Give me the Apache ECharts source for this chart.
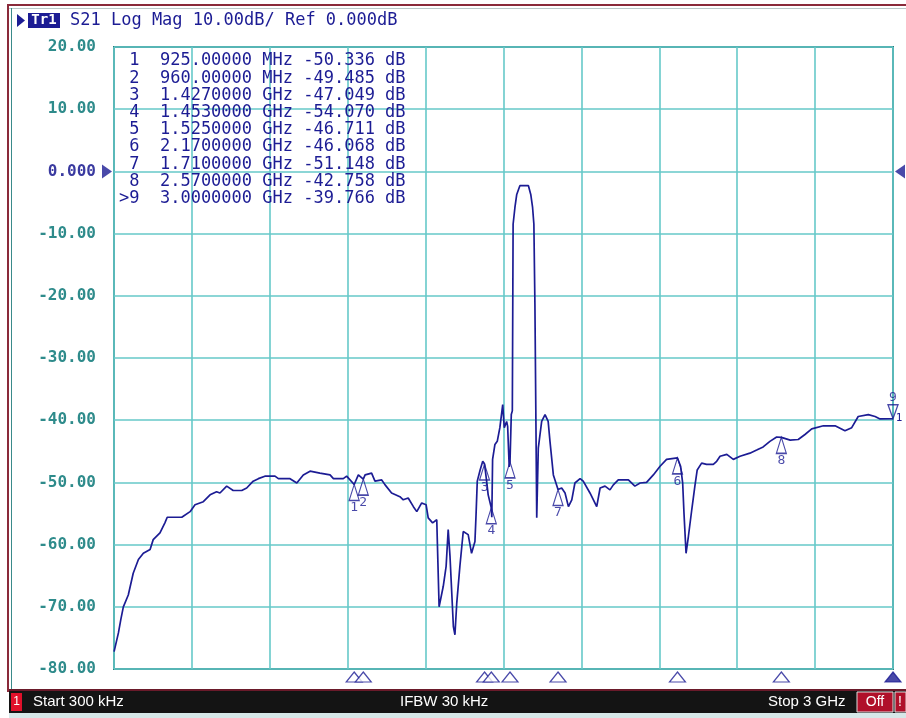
<!DOCTYPE html>
<html>
<head>
<meta charset="utf-8">
<script src="https://cdn.jsdelivr.net/npm/echarts@6/dist/echarts.min.js"></script>
<style>
html,body{margin:0;padding:0;background:#fff;}
#c{width:906px;height:718px;}
</style>
</head>
<body>
<div id="c"></div>
<script>
// ---- data ----
const traceData = [
 [0.3,-77.2],[17,-74.2],[26,-72.1],[36,-70.0],[55,-68.1],[74,-64.6],[94,-62.4],[113,-61.4],[139,-60.8],[151,-59.2],
 [177,-58.1],[196,-56.5],[205,-55.6],[261,-55.6],[293,-54.7],[312,-53.6],[344,-53.1],[370,-52.0],[395,-51.5],[408,-51.7],
 [434,-50.6],[459,-51.3],[492,-51.3],[511,-50.9],[536,-49.8],[556,-49.4],[581,-49.0],[620,-49.0],[633,-49.4],[678,-49.4],
 [704,-50.1],[729,-48.8],[755,-48.2],[793,-48.5],[832,-48.8],[845,-49.4],[883,-49.4],[896,-49.0],[925,-50.336],[941,-48.8],
 [960,-49.485],[967,-48.8],[992,-48.5],[1005,-49.8],[1031,-49.6],[1044,-50.4],[1069,-51.7],[1101,-52.3],[1114,-52.8],[1133,-52.5],
 [1153,-53.9],[1166,-54.7],[1185,-53.3],[1202,-53.6],[1210,-55.7],[1227,-56.5],[1243,-56.0],[1245,-59.2],[1252,-70.0],[1268,-66.7],
 [1279,-63.5],[1287,-57.6],[1294,-61.9],[1307,-73.2],[1313,-74.5],[1320,-69.4],[1332,-63.5],[1345,-57.9],[1364,-58.4],[1377,-61.4],
 [1390,-59.5],[1394,-55.5],[1399,-49.8],[1410,-48.0],[1420,-46.6],[1427,-47.049],[1435,-49.8],[1441,-52.0],[1453,-54.070],[1455,-55.6],
 [1458,-46.3],[1467,-43.9],[1476,-43.4],[1486,-41.2],[1497,-37.5],[1503,-41.2],[1512,-40.2],[1516,-41.0],[1522,-47.5],[1525,-46.711],
 [1530,-39.1],[1534,-38.5],[1537,-8.5],[1544,-5.8],[1551,-3.7],[1563,-2.3],[1596,-2.3],[1605,-3.7],[1612,-5.8],[1617,-8.5],
 [1621,-21.4],[1628,-55.7],[1634,-44.5],[1647,-40.2],[1660,-39.1],[1672,-40.2],[1679,-43.4],[1692,-48.8],[1710,-51.148],[1724,-50.9],
 [1737,-51.7],[1750,-53.9],[1763,-52.8],[1775,-50.1],[1795,-49.4],[1807,-49.8],[1833,-51.7],[1859,-53.9],[1872,-50.9],[1891,-50.6],
 [1910,-51.2],[1923,-50.4],[1942,-49.6],[1981,-49.6],[2006,-50.6],[2026,-50.1],[2051,-50.0],[2077,-48.8],[2103,-47.4],[2128,-46.3],
 [2170,-46.068],[2173,-46.3],[2182,-47.4],[2190,-50.1],[2195,-54.9],[2203,-61.4],[2212,-58.7],[2225,-54.4],[2237,-50.6],[2246,-48.0],
 [2263,-46.9],[2282,-47.1],[2308,-47.1],[2321,-46.6],[2334,-45.8],[2360,-45.5],[2385,-46.3],[2411,-45.8],[2449,-45.3],[2475,-44.8],
 [2500,-44.3],[2526,-43.4],[2552,-42.7],[2570,-42.758],[2604,-43.2],[2635,-43.1],[2661,-42.3],[2687,-41.4],[2732,-40.9],[2777,-40.9],
 [2815,-41.7],[2841,-41.2],[2866,-39.4],[2905,-39.1],[2931,-39.4],[2950,-39.8],[3000,-39.766]
];
const markerNums = [1,2,3,4,5,6,7,8,9];
const markerFreq = [925, 960, 1427, 1453, 1525, 2170, 1710, 2570, 3000];   // MHz
const markerDb   = [-50.336, -49.485, -47.049, -54.070, -46.711, -46.068, -51.148, -42.758, -39.766];
const activeMarker = 9;
const yTicks = [-80,-70,-60,-50,-40,-30,-20,-10,0,10,20];
const refLevel = 0;
const startFreq = 0, stopFreq = 3000;
const headerText = 'S21 Log Mag 10.00dB/ Ref 0.000dB';
const statusStart = 'Start 300 kHz', statusIfbw = 'IFBW 30 kHz', statusStop = 'Stop 3 GHz';

// ---- styles ----
const NAVY = '#1c1c94';
const TEAL = '#2e8b8b';
const GRIDC = '#66c9c9';
const MONO = '"DejaVu Sans Mono", "Liberation Mono", monospace';

function fmtFreq(f){ return f < 1000 ? f.toFixed(5) + ' MHz' : (f/1000).toFixed(7) + ' GHz'; }
function pad(s, n){ s = String(s); while (s.length < n) s = ' ' + s; return s; }

const tableRows = markerNums.map((n,i) => {
  const idx = (n === activeMarker ? '>' : '') + n;
  return pad(idx,2) + '  ' + pad(fmtFreq(markerFreq[i]),13) + ' ' + pad(markerDb[i].toFixed(3),7) + ' dB';
});

const chart = echarts.init(document.getElementById('c'), null, {renderer:'canvas'});

const graphics = [
  {type:'rect', shape:{x:0,y:0,width:906,height:718}, style:{fill:'#fff'}, z:-10, silent:true},
  {type:'line', shape:{x1:8,y1:5,x2:906,y2:5}, style:{stroke:'#8a2a3a',lineWidth:2}},
  {type:'line', shape:{x1:8,y1:8.5,x2:906,y2:8.5}, style:{stroke:'#b8c8c8',lineWidth:1}},
  {type:'line', shape:{x1:8,y1:4,x2:8,y2:692}, style:{stroke:'#8a2a3a',lineWidth:2}},
  {type:'line', shape:{x1:11.5,y1:8,x2:11.5,y2:690}, style:{stroke:'#3a8a8a',lineWidth:1}},
  {type:'polygon', shape:{points:[[17,14],[25,20.5],[17,27]]}, style:{fill:NAVY}},
  {type:'rect', shape:{x:28,y:13,width:32,height:15}, style:{fill:NAVY}},
  {type:'text', x:44, y:20.5, style:{text:'Tr1', font:'bold 14px ' + MONO, fill:'#fff', align:'center', verticalAlign:'middle'}},
  {type:'text', x:70, y:20.5, style:{text:headerText, font:'17px ' + MONO, fill:NAVY, verticalAlign:'middle'}},
  {type:'rect', shape:{x:9,y:689,width:897,height:2}, style:{fill:'#6a1a2a'}},
  {type:'rect', shape:{x:9,y:691,width:897,height:22}, style:{fill:'#141414'}},
  {type:'rect', shape:{x:9,y:713,width:897,height:5}, style:{fill:'#d6e8e8'}},
  {type:'rect', shape:{x:11,y:693,width:11,height:18}, style:{fill:'#e0102a'}},
  {type:'text', x:16.5, y:702, style:{text:'1', font:'12px "Liberation Sans", sans-serif', fill:'#fff', align:'center', verticalAlign:'middle'}},
  {type:'text', x:33, y:702, style:{text:statusStart, font:'15px "Liberation Sans", sans-serif', fill:'#fff', verticalAlign:'middle'}},
  {type:'text', x:400, y:702, style:{text:statusIfbw, font:'15px "Liberation Sans", sans-serif', fill:'#fff', verticalAlign:'middle'}},
  {type:'text', x:768, y:702, style:{text:statusStop, font:'15px "Liberation Sans", sans-serif', fill:'#fff', verticalAlign:'middle'}},
  {type:'rect', shape:{x:857,y:692,width:36,height:20}, style:{fill:'#b0102a', stroke:'#ddd', lineWidth:1}},
  {type:'text', x:875, y:702, style:{text:'Off', font:'14px "Liberation Sans", sans-serif', fill:'#fff', align:'center', verticalAlign:'middle'}},
  {type:'rect', shape:{x:895,y:692,width:11,height:20}, style:{fill:'#b0102a', stroke:'#ddd', lineWidth:1}},
  {type:'text', x:900, y:702, style:{text:'!', font:'14px "Liberation Sans", sans-serif', fill:'#fff', align:'center', verticalAlign:'middle'}},
  {type:'text', x:899, y:418, style:{text:'1', font:'11px ' + MONO, fill:NAVY, align:'center', verticalAlign:'middle'}, z:100}
];
tableRows.forEach((r,i) => {
  graphics.push({type:'text', x:119, y:61 + i*17.2, z:50,
    style:{text:r, font:'17px ' + MONO, fill:NAVY, verticalAlign:'middle'}});
});

const normalMarkers = [], activeMarkers = [], axisMarkers = [];
markerNums.forEach((n,i) => {
  const item = {name:String(n), value:[markerFreq[i], markerDb[i]]};
  if (n === activeMarker) activeMarkers.push(item); else normalMarkers.push(item);
  axisMarkers.push({value:[markerFreq[i], yTicks[0]], itemStyle: n === activeMarker ? {color:NAVY} : {color:'#fff'}});
});

chart.setOption({
  animation:false,
  backgroundColor:'#fff',
  grid:{left:114, top:47, width:779, height:622, show:true, borderColor:'#2e7b7b', borderWidth:2, backgroundColor:'#fff'},
  xAxis:{type:'value', min:startFreq, max:stopFreq, interval:300,
    axisLine:{show:false}, axisTick:{show:false}, axisLabel:{show:false},
    splitLine:{show:true, lineStyle:{color:GRIDC, width:1.6}}},
  yAxis:{type:'value', min:yTicks[0], max:yTicks[yTicks.length-1], interval:10,
    axisLine:{show:false}, axisTick:{show:false},
    axisLabel:{margin:18, fontFamily:MONO, fontSize:16, fontWeight:'bold', color:TEAL,
      formatter:function(v){ return v === refLevel ? '{r|0.000}' : v.toFixed(2); },
      rich:{r:{color:'#3a3aa0', fontFamily:MONO, fontSize:16, fontWeight:'bold'}}},
    splitLine:{show:true, lineStyle:{color:GRIDC, width:1.6}}},
  graphic:graphics,
  series:[
    {type:'line', data:traceData, showSymbol:false, smooth:false, z:5,
      lineStyle:{color:NAVY, width:1.7}},
    {type:'scatter', data:normalMarkers, clip:false, z:6,
      symbol:'path://M5 0 L10 16 L0 16 Z', symbolSize:[10,16], symbolOffset:[0,8],
      itemStyle:{color:'rgba(255,255,255,0)', borderColor:NAVY, borderWidth:1.3},
      label:{show:true, position:'bottom', distance:0, formatter:'{b}', color:NAVY, fontFamily:MONO, fontSize:13}},
    {type:'scatter', data:activeMarkers, clip:false, z:6,
      symbol:'path://M0 0 L10 0 L5 14 Z', symbolSize:[10,14], symbolOffset:[0,-7],
      itemStyle:{color:'rgba(255,255,255,0)', borderColor:NAVY, borderWidth:1.4},
      label:{show:true, position:'top', distance:0, formatter:'{b}', color:NAVY, fontFamily:MONO, fontSize:13}},
    {type:'scatter', data:axisMarkers, clip:false, z:6,
      symbol:'path://M8 0 L16 10 L0 10 Z', symbolSize:[16,10], symbolOffset:[0,8],
      itemStyle:{borderColor:NAVY, borderWidth:1.2}},
    {type:'scatter', data:[[startFreq, refLevel]], clip:false, z:6,
      symbol:'path://M0 0 L10 7 L0 14 Z', symbolSize:[10,14], symbolOffset:[-7,0],
      itemStyle:{color:NAVY}},
    {type:'scatter', data:[[stopFreq, refLevel]], clip:false, z:6,
      symbol:'path://M10 0 L0 7 L10 14 Z', symbolSize:[10,14], symbolOffset:[7,0],
      itemStyle:{color:NAVY}}
  ]
});
</script>
</body>
</html>
